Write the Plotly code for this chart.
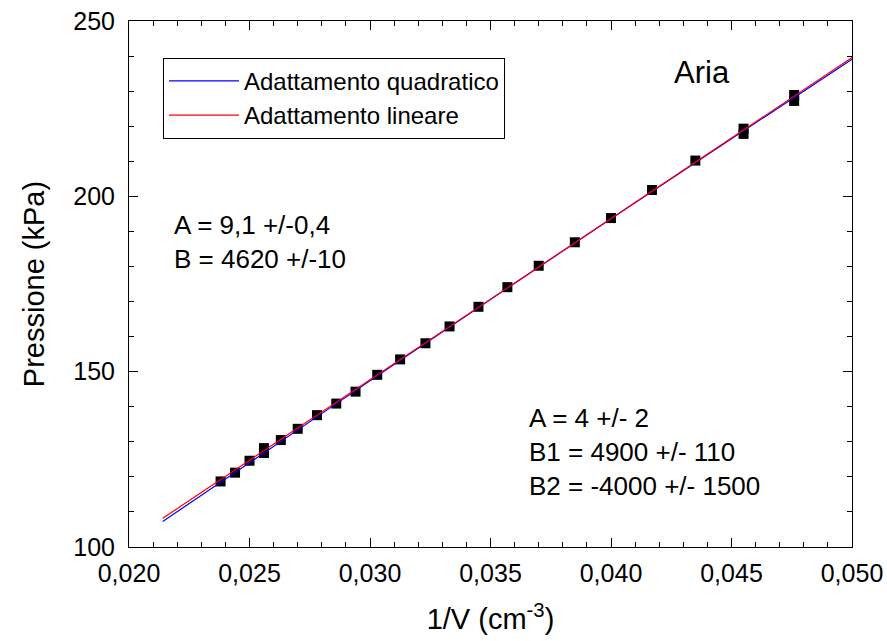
import plotly.graph_objects as go

# Measured data (1/V in cm^-3, pressure in kPa)
inv_v = [0.0238, 0.0244, 0.0250, 0.0256, 0.0256, 0.0263, 0.0270, 0.0278, 0.0286,
         0.0294, 0.0303, 0.03125, 0.0323, 0.0333, 0.0345, 0.0357, 0.0370, 0.0385,
         0.0400, 0.0417, 0.0435, 0.0455, 0.0455, 0.0476, 0.0476]
pressure = [118.7, 121.2, 124.6, 128.2, 126.8, 130.5, 133.7, 137.6, 140.9,
            144.3, 149.1, 153.5, 158.1, 162.9, 168.5, 174.1, 180.2, 186.9,
            193.8, 201.8, 210.2, 219.3, 217.8, 228.9, 227.2]

# Fitted curves
quad_x = [0.0214, 0.025, 0.030, 0.035, 0.040, 0.045, 0.050]
quad_y = [107.3, 124.0, 147.4, 170.6, 193.6, 216.4, 239.1]
lin_x = [0.0214, 0.050]
lin_y = [108.2, 239.6]

FONT = "Liberation Sans, Arial, Helvetica, sans-serif"

fig = go.Figure()
fig.add_trace(go.Scatter(x=inv_v, y=pressure, mode="markers", showlegend=False,
                         marker=dict(symbol="square", size=10, color="black",
                                     line=dict(width=0))))
fig.add_trace(go.Scatter(x=quad_x, y=quad_y, mode="lines", name="Adattamento quadratico",
                         line=dict(color="#0000ff", width=1.2, shape="spline")))
fig.add_trace(go.Scatter(x=lin_x, y=lin_y, mode="lines", name="Adattamento lineare",
                         line=dict(color="#ff0000", width=1.2)))

axis_common = dict(showline=True, linecolor="black", linewidth=1, mirror="ticks",
                   ticks="inside", ticklen=9, tickwidth=1, tickcolor="black",
                   showgrid=False, zeroline=False, automargin=False,
                   tickfont=dict(family=FONT, size=25, color="black"))

fig.update_xaxes(range=[0.020, 0.050], dtick=0.005, tick0=0.020, tickformat=".3f",
                 ticklabelstandoff=4,
                 title=dict(text="1/V (cm<sup>-3</sup>)", font=dict(family=FONT, size=29, color="black"),
                            standoff=22),
                 minor=dict(ticks="inside", ticklen=5, dtick=0.001, tickcolor="black", showgrid=False),
                 **axis_common)
fig.update_yaxes(range=[100, 250], dtick=50, tick0=100,
                 ticklabelstandoff=8,
                 title=dict(text="Pressione (kPa)", font=dict(family=FONT, size=29, color="black"),
                            standoff=20),
                 minor=dict(ticks="inside", ticklen=5, dtick=10, tickcolor="black", showgrid=False),
                 **axis_common)

fig.add_annotation(x=0.04378, y=235.2, xref="x", yref="y", text="Aria", showarrow=False,
                   font=dict(family=FONT, size=31, color="black"))
fig.add_annotation(x=0.02178, y=187.1, xref="x", yref="y", xanchor="left", align="left",
                   text="A = 9,1 +/-0,4<br>B = 4620 +/-10", showarrow=False,
                   font=dict(family=FONT, size=26, color="black"))
fig.add_annotation(x=0.03651, y=127.2, xref="x", yref="y", xanchor="left", align="left",
                   text="A = 4 +/- 2<br>B1 = 4900 +/- 110<br>B2 = -4000 +/- 1500", showarrow=False,
                   font=dict(family=FONT, size=26, color="black"))

fig.update_layout(
    width=887, height=641,
    margin=dict(l=129, r=35, t=21, b=94, autoexpand=False),
    plot_bgcolor="white", paper_bgcolor="white",
    separators=",.",
    font=dict(family=FONT, color="black"),
    legend=dict(x=0.047, y=0.93, xanchor="left", yanchor="top",
                bordercolor="black", borderwidth=1, bgcolor="white",
                font=dict(family=FONT, size=24, color="black"),
                itemwidth=70, tracegroupgap=0),
)

fig.write_html("out.html")
